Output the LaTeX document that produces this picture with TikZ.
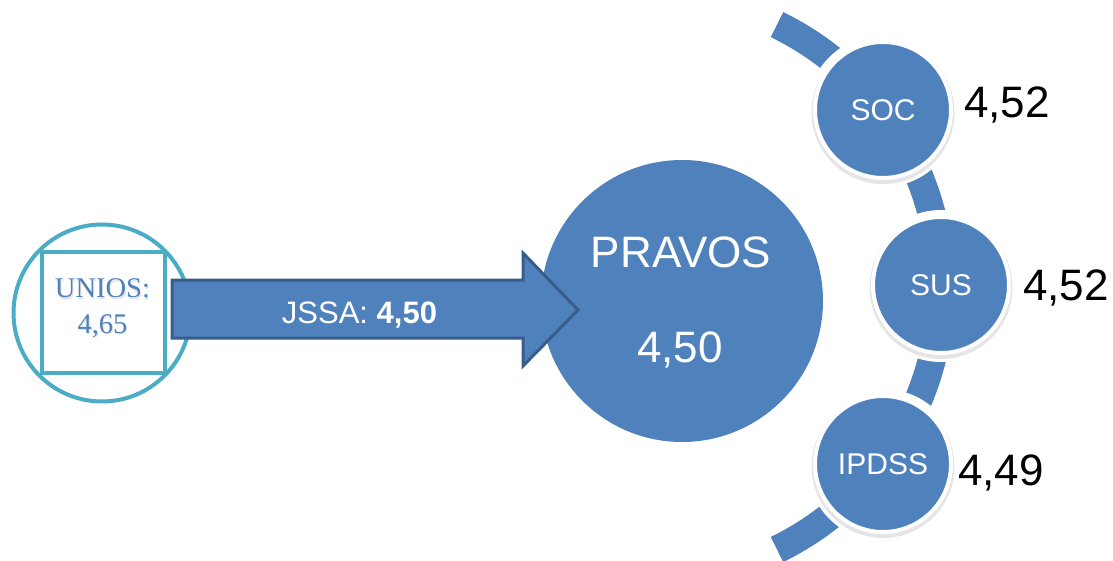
\documentclass[tikz,border=0pt]{standalone}
\usepackage{fontspec}
\setmainfont{Liberation Sans}
\newfontfamily\serifUN{Liberation Serif}
\definecolor{mblue}{RGB}{79,129,189}
\definecolor{mdark}{RGB}{56,93,138}
\definecolor{mteal}{RGB}{75,172,198}
\begin{document}
\begin{tikzpicture}[x=1pt,y=-1pt,
  smallc/.style={circle, fill=mblue, draw=white, line width=4pt, minimum size=136pt, inner sep=0pt, text=white, font=\fontsize{30}{30}\selectfont},
  val/.style={anchor=base west, inner sep=0pt, font=\fontsize{44}{44}\selectfont, text=black},
  bigtxt/.style={anchor=base, inner sep=0pt, text=white, font=\fontsize{44}{44}\selectfont},
  shad/.style={fill=black, opacity=0.10},
  halo/.style={fill=white},
  band/.style={draw=mblue, line width=28pt},
  untxt/.style={anchor=base, inner sep=0pt, text=mblue, font=\serifUN\fontsize{28.5}{28.5}\selectfont},
  blockarrow/.style={fill=mblue, draw=mdark, line width=3pt, line join=miter}
]
\useasboundingbox (0,0) rectangle (1113,561);
\clip (0,0) rectangle (1113,561);
\fill[white] (0,0) rectangle (1113,561);

% left circle with square
\node[circle, draw=mteal, line width=4pt, minimum size=177pt, inner sep=0pt] (ucirc) at (102,313) {};
\node[rectangle, draw=mteal, line width=4pt, minimum width=123pt, minimum height=121pt, inner sep=0pt] (usq) at (103.5,312.5) {};
\node[untxt, text=black!20, opacity=0.6] (ut1s) at (103.5,299.5) {UNIOS:};
\node[untxt, text=black!20, opacity=0.6] (ut2s) at (103.5,334.5) {4,65};
\node[untxt] (ut1) at (102.5,298) {UNIOS:};
\node[untxt] (ut2) at (102.5,333) {4,65};

% big circle
\node[circle, fill=mblue, minimum size=282pt, inner sep=0pt] (pravos) at (682,301) {};
\node[bigtxt] (pt1) at (681,268) {PRAVOS};
\node[bigtxt] (pt2) at (680,362) {4,50};

% block arrow
\coordinate (a1) at (172,280);
\coordinate (a2) at (523,280);
\coordinate (a3) at (523,253);
\coordinate (tip) at (578,310);
\coordinate (a5) at (523,366);
\coordinate (a6) at (523,338);
\coordinate (a7) at (172,338);
\draw[blockarrow] (a1) -- (a2) -- (a3) -- (tip) -- (a5) -- (a6) -- (a7) -- cycle;
\node[anchor=base, inner sep=0pt, text=white, font=\fontsize{31}{31}\selectfont] (jssa) at (359.5,323) {JSSA: \textbf{4,50}};

% arc band
\coordinate (arcstart) at (777,24.6);
\draw[band] (arcstart) arc[start angle=-64, end angle=64, radius=292];

% white halos and shadows
\fill[halo] (883,111) circle (76);
\fill[halo] (941,286) circle (76);
\fill[halo] (883,465) circle (76);
\fill[shad] (883,112.5) circle (71.5);
\fill[shad] (941,287.5) circle (71.5);
\fill[shad] (883,466.5) circle (71.5);

% small circles
\node[smallc] (soc) at (883,110) {SOC};
\node[smallc] (sus) at (941,285) {SUS};
\node[smallc] (ipdss) at (883,464) {IPDSS};

% values
\node[val] (v1) at (964,118) {4,52};
\node[val] (v2) at (1023,300) {4,52};
\node[val] (v3) at (958,485) {4,49};
\end{tikzpicture}
\end{document}
